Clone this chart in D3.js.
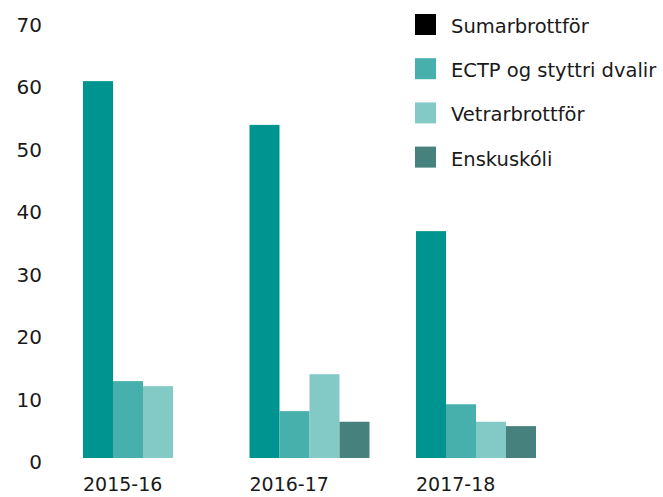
<!DOCTYPE html>
<html>
<head>
<meta charset="utf-8">
<script src="https://cdn.jsdelivr.net/npm/d3@7"></script>
<style>
  html, body { margin: 0; padding: 0; background: #fff; }
  svg text { font-family: "DejaVu Sans", sans-serif; fill: #1a1a1a; }
</style>
</head>
<body>
<svg id="chart" width="663" height="497"></svg>
<script>
const categories = ["2015-16", "2016-17", "2017-18"];
const seriesNames = ["Sumarbrottför", "ECTP og styttri dvalir", "Vetrarbrottför", "Enskuskóli"];
const sumarbrottfor = [60.3, 53.3, 36.3];
const ectp = [12.3, 7.5, 8.6];
const vetrarbrottfor = [11.5, 13.4, 5.8];
const enskuskoli = [null, 5.8, 5.1];
const yTicks = [0, 10, 20, 30, 40, 50, 60, 70];
const barColors = ["#009490", "#48b0ac", "#83c9c6", "#47817d"];
const legendColors = ["#000000", "#48b0ac", "#83c9c6", "#47817d"];

const seriesValues = [sumarbrottfor, ectp, vetrarbrottfor, enskuskoli];

const svg = d3.select("#chart");

const y = d3.scaleLinear().domain([0, 70]).range([458, 20.5]);
const x0 = d3.scaleBand().domain(categories).range([83, 536]).paddingInner(46.5 / 166.5).paddingOuter(0);
const x1 = d3.scaleBand().domain(seriesNames).range([0, x0.bandwidth()]).padding(0);

// y axis
const yAxis = d3.axisLeft(y).tickValues(yTicks).tickSize(0).tickPadding(0);
const gy = svg.append("g").attr("transform", "translate(42,0)").call(yAxis);
gy.select(".domain").remove();
gy.selectAll("text")
  .attr("x", 0)
  .attr("dy", null)
  .attr("y", 10.5)
  .attr("text-anchor", "end")
  .style("font-size", "20px")
  .style("font-family", "DejaVu Sans, sans-serif")
  .attr("fill", "#222");

// bars
categories.forEach((cat, ci) => {
  const g = svg.append("g").attr("transform", `translate(${x0(cat)},0)`);
  seriesNames.forEach((s, si) => {
    const v = seriesValues[si][ci];
    if (v == null) return;
    g.append("rect")
      .attr("x", x1(s))
      .attr("y", y(v))
      .attr("width", x1.bandwidth())
      .attr("height", y(0) - y(v))
      .attr("fill", barColors[si]);
  });
});

// x axis labels
const xAxis = d3.axisBottom(x0).tickSize(0).tickPadding(0);
const gx = svg.append("g").call(xAxis);
gx.select(".domain").remove();
gx.selectAll(".tick").attr("transform", d => `translate(${x0(d)},0)`);
gx.selectAll("text")
  .attr("x", 0)
  .attr("y", 491)
  .attr("dy", null)
  .attr("text-anchor", "start")
  .style("font-size", "19px")
  .style("font-family", "DejaVu Sans, sans-serif")
  .attr("fill", "#222");

// legend
const legend = svg.append("g");
seriesNames.forEach((s, i) => {
  const ly = 14 + i * 44.2;
  legend.append("rect")
    .attr("x", 415).attr("y", ly)
    .attr("width", 21).attr("height", 21)
    .attr("fill", legendColors[i]);
  legend.append("text")
    .attr("x", 451).attr("y", ly + 19)
    .style("font-size", "19.5px")
    .attr("fill", "#222")
    .text(s);
});
</script>
</body>
</html>
